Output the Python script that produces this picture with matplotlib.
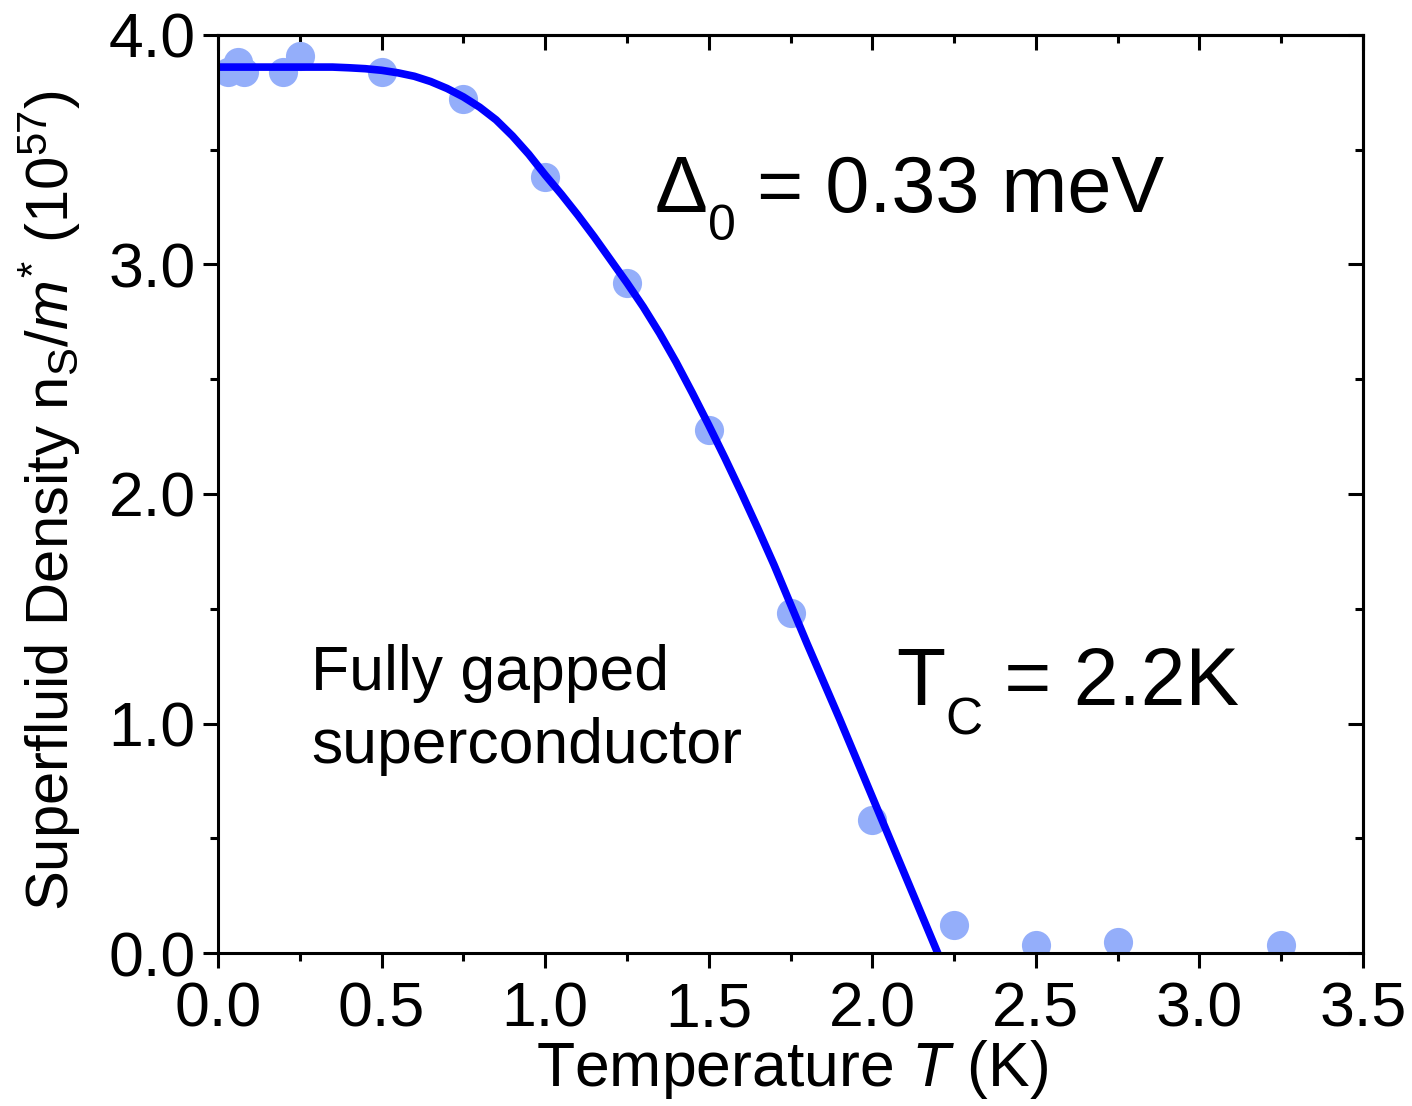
import matplotlib
matplotlib.use('Agg')
import matplotlib.pyplot as plt
from matplotlib.ticker import MultipleLocator, FormatStrFormatter
from matplotlib.transforms import offset_copy

# measured superfluid density
temp = [0.03, 0.06, 0.08, 0.20, 0.25, 0.50, 0.75, 1.00, 1.25, 1.50, 1.75, 2.00, 2.25, 2.50, 2.75, 3.25]
density = [3.84, 3.88, 3.84, 3.84, 3.91, 3.84, 3.72, 3.38, 2.92, 2.28, 1.48, 0.58, 0.12, 0.035, 0.048, 0.035]

# fully gapped fit
fit_t = [0.0, 0.35, 0.4, 0.45, 0.5, 0.55, 0.6, 0.65, 0.7, 0.75, 0.8, 0.85, 0.9, 0.95,
         1.0, 1.05, 1.1, 1.15, 1.2, 1.25, 1.3, 1.35, 1.4, 1.45, 1.5, 1.55, 1.6, 1.65,
         1.7, 1.75, 1.8, 1.85, 1.9, 1.95, 2.0, 2.05, 2.1, 2.15, 2.2]
fit_n = [3.86, 3.86, 3.857, 3.853, 3.846, 3.835, 3.82, 3.797, 3.767, 3.73, 3.685, 3.63, 3.56, 3.48,
         3.39, 3.305, 3.215, 3.12, 3.02, 2.92, 2.815, 2.70, 2.575, 2.44, 2.30, 2.155, 2.005, 1.85,
         1.69, 1.52, 1.35, 1.185, 1.02, 0.85, 0.68, 0.51, 0.34, 0.17, 0.0]

plt.rcParams['font.family'] = ['Liberation Sans', 'DejaVu Sans']
plt.rcParams['mathtext.fontset'] = 'custom'
plt.rcParams['mathtext.rm'] = 'Liberation Sans'
plt.rcParams['mathtext.it'] = 'Liberation Sans:italic'
plt.rcParams['mathtext.bf'] = 'Liberation Sans:bold'

fig = plt.figure(figsize=(14.12, 11.06), dpi=100)
ax = fig.add_axes([0.1544, 0.1383, 0.8109, 0.8301])

ax.plot(temp, density, 'o', color='#94aefa', markersize=21, markeredgewidth=0, zorder=2)
ax.plot(fit_t, fit_n, '-', color='#0000ff', linewidth=5.5, zorder=3)

ax.set_xlim(0, 3.5)
ax.set_ylim(0, 4.0)


def set_ticks(axis, major, minor):
    axis.set_major_locator(MultipleLocator(major))
    axis.set_minor_locator(MultipleLocator(minor))


set_ticks(ax.xaxis, 0.5, 0.25)
set_ticks(ax.yaxis, 1.0, 0.5)
ax.xaxis.set_major_formatter(FormatStrFormatter('%.1f'))
ax.yaxis.set_major_formatter(FormatStrFormatter('%.1f'))

ax.tick_params(which='both', direction='out', width=2.2)
ax.tick_params(which='major', length=11, labelsize=45)
ax.tick_params(axis='x', which='major', pad=9)
ax.tick_params(axis='y', which='major', pad=5)
ax.tick_params(which='minor', length=6)

# mirrored ticks pointing inwards on top and right
top = ax.secondary_xaxis('top')
right = ax.secondary_yaxis('right')
set_ticks(top.xaxis, 0.5, 0.25)
set_ticks(right.yaxis, 1.0, 0.5)
for sec in (top, right):
    sec.tick_params(which='both', direction='in', width=2.2,
                    labeltop=False, labelright=False)
    sec.tick_params(which='major', length=11)
    sec.tick_params(which='minor', length=6)
    for s in sec.spines.values():
        s.set_linewidth(2.2)

for s in ax.spines.values():
    s.set_linewidth(2.2)
    s.set_zorder(4)

ax.set_xlabel(r'Temperature $T$ (K)', fontsize=45)
ax.set_ylabel(r'Superfluid Density n$_\mathregular{S}$/$m^\mathregular{*}$ (10$^\mathregular{57}$)',
              fontsize=43)
ax.xaxis.set_label_coords(0.501, -0.093)
ax.yaxis.set_label_coords(-0.118, 0.493)


def write_pieces(x, y, pieces):
    # pieces: (text, fontsize, drop in points)
    renderer = fig.canvas.get_renderer()
    dx = 0.0
    for s, size, drop in pieces:
        tr = offset_copy(ax.transData, fig=fig, x=dx, y=-drop, units='points')
        t = ax.text(x, y, s, fontsize=size, transform=tr, va='baseline', ha='left')
        dx += t.get_window_extent(renderer).width * 72.0 / fig.dpi


write_pieces(1.335, 3.229, [('\u0394', 57, 0), ('0', 36, 20), (' = 0.33 meV', 57, 0)])
write_pieces(2.072, 1.081, [('T', 58, 0), ('C', 37, 21.5), (' = 2.2K', 58, 0)])

ax.text(0.284, 1.146, 'Fully gapped', fontsize=45, va='baseline')
ax.text(0.284, 0.828, 'superconductor', fontsize=45, va='baseline')

fig.savefig('out.png', dpi=100)
